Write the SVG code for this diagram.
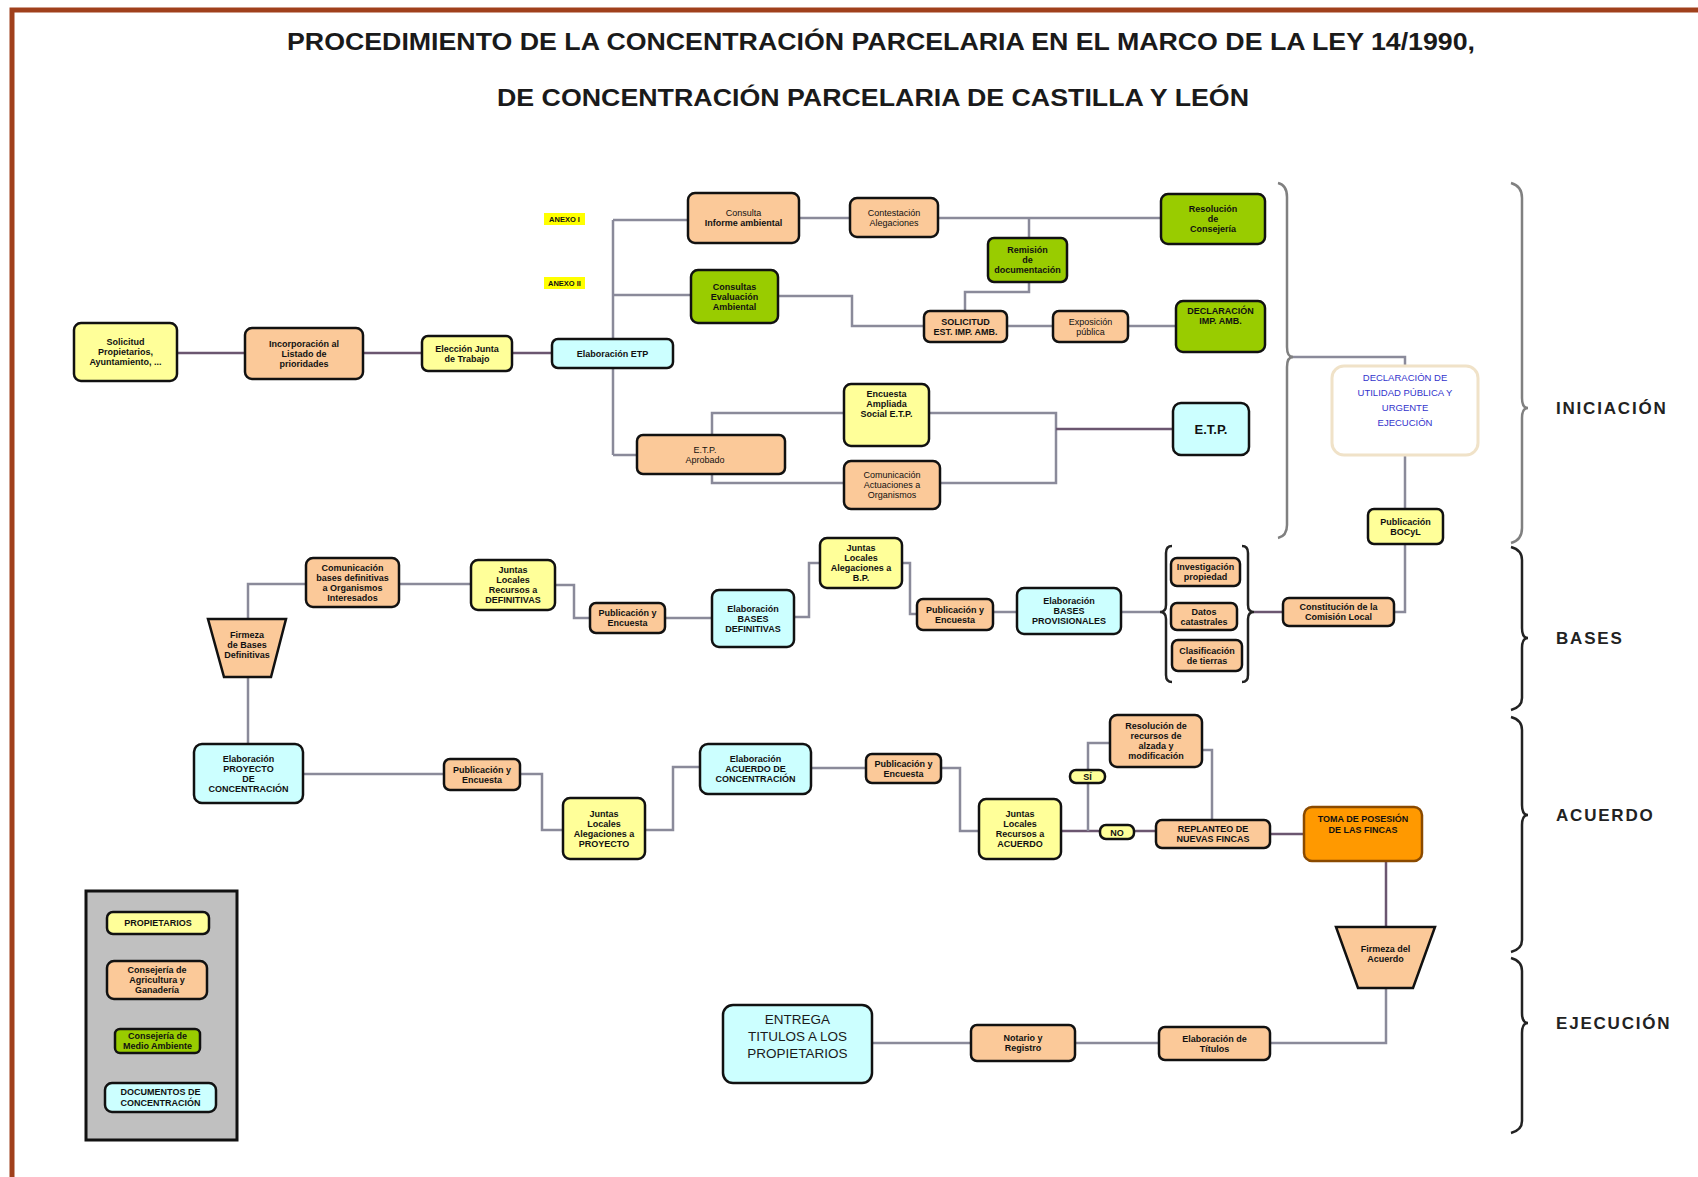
<svg xmlns="http://www.w3.org/2000/svg" width="1698" height="1177" viewBox="0 0 1698 1177">
<style>
  .bg { fill: #ffffff; }
  .frame { fill: none; stroke: #a0401c; stroke-width: 5; }
  .title { font-family: "Liberation Sans", Arial, sans-serif; font-size: 24px; font-weight: bold; fill: #1a1a1a; text-anchor: middle; }
  .phase { font-family: "Liberation Sans", Arial, sans-serif; font-size: 17px; font-weight: bold; fill: #222; letter-spacing: 1.8px; }
  .n rect, .n polygon { stroke: #111; stroke-width: 2.5; }
  .y { fill: #ffff99; }
  .o { fill: #fbc999; }
  .g { fill: #99cc00; }
  .c { fill: #ccffff; }
  .t { font-family: "Liberation Sans", Arial, sans-serif; font-size: 9px; font-weight: bold; fill: #111; text-anchor: middle; }
  .tn { font-weight: normal; }
  .blue { font-family: "Liberation Sans", Arial, sans-serif; font-size: 9.5px; fill: #3333cc; text-anchor: middle; }
  .big { font-family: "Liberation Sans", Arial, sans-serif; font-size: 13.5px; fill: #1a1a1a; text-anchor: middle; }
  .edge { fill: none; stroke: #8a8a9a; stroke-width: 2.5; }
  .edge2 { fill: none; stroke: #6b5670; stroke-width: 2.5; }
  .brace { fill: none; stroke: #222; stroke-width: 2.5; }
  .braceg { fill: none; stroke: #808080; stroke-width: 2.5; }
</style>

<rect class="bg" x="0" y="0" width="1698" height="1177"/>
<path class="frame" d="M12,1177 V10 H1698"/>

<g id="title">
  <text class="title" x="881" y="50" textLength="1188" lengthAdjust="spacingAndGlyphs">PROCEDIMIENTO DE LA CONCENTRACIÓN PARCELARIA EN EL MARCO DE LA LEY 14/1990,</text>
  <text class="title" x="873" y="106" textLength="752" lengthAdjust="spacingAndGlyphs">DE CONCENTRACIÓN PARCELARIA DE CASTILLA Y LEÓN</text>
</g>

<!-- connectors -->
<g id="connectors">
  <path class="edge2" d="M177,353 H245"/>
  <path class="edge2" d="M363,353 H422"/>
  <path class="edge2" d="M512,353 H552"/>
  <path class="edge" d="M613,220 V339 M613,368 V455"/>
  <path class="edge" d="M613,220 H688"/>
  <path class="edge" d="M613,295 H691"/>
  <path class="edge" d="M613,455 H637"/>
  <path class="edge" d="M799,218 H850"/>
  <path class="edge" d="M938,218 H1161"/>
  <path class="edge" d="M1029,218 V238"/>
  <path class="edge" d="M1029,282 V292 H965 V311"/>
  <path class="edge" d="M778,296 H852 V326 H924"/>
  <path class="edge" d="M1007,326 H1053"/>
  <path class="edge" d="M1128,326 H1176"/>
  <path class="edge" d="M712,435 V413 H844"/>
  <path class="edge" d="M712,474 V483 H844"/>
  <path class="edge" d="M929,413 H1056 V483 H940"/>
  <path class="edge2" d="M1056,429 H1173"/>
  <path class="edge" d="M1289,357 H1405 V366"/>
  <path class="edge" d="M1405,455 V509"/>
  <path class="edge" d="M1405,544 V612 H1394"/>
  <path class="edge2" d="M1283,612 H1254"/>
  <path class="edge" d="M1160,612 H1121"/>
  <path class="edge" d="M1017,612 H993"/>
  <path class="edge" d="M917,614 H910 V563 H902"/>
  <path class="edge" d="M820,563 H809 V617 H794"/>
  <path class="edge" d="M712,618 H665"/>
  <path class="edge" d="M590,618 H574 V585 H555"/>
  <path class="edge" d="M471,584 H399"/>
  <path class="edge" d="M306,584 H248 V619"/>
  <path class="edge" d="M248,677 V744"/>
  <path class="edge" d="M303,774 H444"/>
  <path class="edge" d="M520,774 H542 V830 H563"/>
  <path class="edge" d="M645,830 H673 V767 H700"/>
  <path class="edge" d="M811,768 H866"/>
  <path class="edge" d="M941,768 H960 V831 H979"/>
  <path class="edge2" d="M1061,831 H1156"/>
  <path class="edge" d="M1088,831 V743 H1110"/>
  <path class="edge" d="M1202,750 H1212 V820"/>
  <path class="edge2" d="M1270,834 H1304"/>
  <path class="edge2" d="M1386,861 V927"/>
  <path class="edge" d="M1386,988 V1043 H1270"/>
  <path class="edge" d="M1159,1043 H1075"/>
  <path class="edge" d="M971,1043 H872"/>
</g>

<!-- braces -->
<g id="braces">
  <path class="braceg" d="M1278,183 Q1287,185 1287,197 V347 Q1287,357 1293,357 Q1287,357 1287,367 V525 Q1287,536 1278,538"/>
  <path class="brace" d="M1172,546 Q1166,546 1166,553 V605 Q1166,612 1160,612 Q1166,612 1166,619 V675 Q1166,682 1172,682"/>
  <path class="brace" d="M1242,546 Q1248,546 1248,553 V605 Q1248,612 1254,612 Q1248,612 1248,619 V675 Q1248,682 1242,682"/>
  <path class="braceg" d="M1511,183 Q1522,186 1522,198 V398 Q1522,408 1528,408 Q1522,408 1522,418 V528 Q1522,540 1511,543"/>
  <path class="brace" d="M1511,547 Q1522,550 1522,560 V628 Q1522,638 1528,638 Q1522,638 1522,648 V698 Q1522,707 1511,710"/>
  <path class="brace" d="M1511,717 Q1522,720 1522,730 V805 Q1522,815 1528,815 Q1522,815 1522,825 V940 Q1522,949 1511,952"/>
  <path class="brace" d="M1511,958 Q1522,961 1522,971 V1013 Q1522,1023 1528,1023 Q1522,1023 1522,1033 V1121 Q1522,1130 1511,1133"/>
</g>

<g id="phases">
  <text class="phase" x="1556" y="414">INICIACIÓN</text>
  <text class="phase" x="1556" y="644">BASES</text>
  <text class="phase" x="1556" y="821">ACUERDO</text>
  <text class="phase" x="1556" y="1029">EJECUCIÓN</text>
</g>

<!-- INICIACIÓN -->
<g id="solicitud" class="n"><rect class="y" x="74" y="323" width="103" height="58" rx="7"/>
  <text class="t" x="125.5" y="345">Solicitud</text><text class="t" x="125.5" y="355">Propietarios,</text><text class="t" x="125.5" y="365">Ayuntamiento, ...</text></g>
<g id="incorporacion" class="n"><rect class="o" x="245" y="328" width="118" height="51" rx="7"/>
  <text class="t" x="304" y="347">Incorporación al</text><text class="t" x="304" y="357">Listado de</text><text class="t" x="304" y="367">prioridades</text></g>
<g id="eleccion-junta" class="n"><rect class="y" x="422" y="336" width="90" height="35" rx="6"/>
  <text class="t" x="467" y="351.5">Elección Junta</text><text class="t" x="467" y="361.5">de Trabajo</text></g>
<g id="elaboracion-etp" class="n"><rect class="c" x="552" y="339" width="121" height="29" rx="6"/>
  <text class="t" x="612.5" y="357">Elaboración ETP</text></g>
<g id="anexo-1"><rect x="544" y="213" width="41" height="12" fill="#ffff00"/><text class="t" x="564.5" y="222" style="font-size:7.5px">ANEXO I</text></g>
<g id="anexo-2"><rect x="544" y="277" width="41" height="12" fill="#ffff00"/><text class="t" x="564.5" y="286" style="font-size:7.5px">ANEXO II</text></g>
<g id="consulta-informe" class="n"><rect class="o" x="688" y="193" width="111" height="50" rx="7"/>
  <text class="t tn" x="743.5" y="216">Consulta</text><text class="t" x="743.5" y="226">Informe ambiental</text></g>
<g id="contestacion" class="n"><rect class="o" x="850" y="198" width="88" height="39" rx="7"/>
  <text class="t tn" x="894" y="215.5">Contestación</text><text class="t tn" x="894" y="225.5">Alegaciones</text></g>
<g id="consultas-evaluacion" class="n"><rect class="g" x="691" y="270" width="87" height="53" rx="7"/>
  <text class="t" x="734.5" y="289.5">Consultas</text><text class="t" x="734.5" y="299.5">Evaluación</text><text class="t" x="734.5" y="309.5">Ambiental</text></g>
<g id="remision" class="n"><rect class="g" x="988" y="238" width="79" height="44" rx="6"/>
  <text class="t" x="1027.5" y="253">Remisión</text><text class="t" x="1027.5" y="263">de</text><text class="t" x="1027.5" y="273">documentación</text></g>
<g id="resolucion-consejeria" class="n"><rect class="g" x="1161" y="194" width="104" height="50" rx="7"/>
  <text class="t" x="1213" y="212">Resolución</text><text class="t" x="1213" y="222">de</text><text class="t" x="1213" y="232">Consejería</text></g>
<g id="solicitud-eia" class="n"><rect class="o" x="924" y="311" width="83" height="31" rx="6"/>
  <text class="t" x="965.5" y="324.5">SOLICITUD</text><text class="t" x="965.5" y="334.5">EST. IMP. AMB.</text></g>
<g id="exposicion" class="n"><rect class="o" x="1053" y="311" width="75" height="31" rx="6"/>
  <text class="t tn" x="1090.5" y="324.5">Exposición</text><text class="t tn" x="1090.5" y="334.5">pública</text></g>
<g id="declaracion-ia" class="n"><rect class="g" x="1176" y="301" width="89" height="51" rx="7"/>
  <text class="t" x="1220.5" y="314">DECLARACIÓN</text><text class="t" x="1220.5" y="324">IMP. AMB.</text></g>
<g id="encuesta-etp" class="n"><rect class="y" x="844" y="384" width="85" height="62" rx="7"/>
  <text class="t" x="886.5" y="397">Encuesta</text><text class="t" x="886.5" y="407">Ampliada</text><text class="t" x="886.5" y="417">Social E.T.P.</text></g>
<g id="etp-aprobado" class="n"><rect class="o" x="637" y="435" width="148" height="39" rx="6"/>
  <text class="t tn" x="705" y="452.5">E.T.P.</text><text class="t tn" x="705" y="462.5">Aprobado</text></g>
<g id="comunicacion-organismos" class="n"><rect class="o" x="844" y="461" width="96" height="48" rx="7"/>
  <text class="t tn" x="892" y="478">Comunicación</text><text class="t tn" x="892" y="488">Actuaciones a</text><text class="t tn" x="892" y="498">Organismos</text></g>
<g id="etp" class="n"><rect class="c" x="1173" y="403" width="76" height="52" rx="8"/>
  <text class="t" x="1211" y="434" style="font-size:13px">E.T.P.</text></g>
<g id="declaracion-utilidad"><rect x="1332" y="366" width="146" height="89" rx="12" fill="#ffffff" stroke="#f0e2c8" stroke-width="3"/>
  <text class="blue" x="1405" y="381">DECLARACIÓN DE</text><text class="blue" x="1405" y="396">UTILIDAD PÚBLICA Y</text><text class="blue" x="1405" y="411">URGENTE</text><text class="blue" x="1405" y="426">EJECUCIÓN</text></g>
<g id="publicacion-bocyl" class="n"><rect class="y" x="1368" y="509" width="75" height="35" rx="6"/>
  <text class="t" x="1405.5" y="524.5">Publicación</text><text class="t" x="1405.5" y="534.5">BOCyL</text></g>

<!-- BASES -->
<g id="comision-local" class="n"><rect class="o" x="1283" y="598" width="111" height="28" rx="6"/>
  <text class="t" x="1338.5" y="610">Constitución de la</text><text class="t" x="1338.5" y="620">Comisión Local</text></g>
<g id="investigacion" class="n"><rect class="o" x="1171" y="558" width="69" height="28" rx="6"/>
  <text class="t" x="1205.5" y="570">Investigación</text><text class="t" x="1205.5" y="580">propiedad</text></g>
<g id="datos-catastrales" class="n"><rect class="o" x="1171" y="603" width="66" height="27" rx="6"/>
  <text class="t" x="1204" y="614.5">Datos</text><text class="t" x="1204" y="624.5">catastrales</text></g>
<g id="clasificacion" class="n"><rect class="o" x="1172" y="640" width="70" height="31" rx="6"/>
  <text class="t" x="1207" y="653.5">Clasificación</text><text class="t" x="1207" y="663.5">de tierras</text></g>
<g id="bases-provisionales" class="n"><rect class="c" x="1017" y="588" width="104" height="46" rx="7"/>
  <text class="t" x="1069" y="604">Elaboración</text><text class="t" x="1069" y="614">BASES</text><text class="t" x="1069" y="624">PROVISIONALES</text></g>
<g id="publicacion-bp" class="n"><rect class="o" x="917" y="599" width="76" height="31" rx="6"/>
  <text class="t" x="955" y="612.5">Publicación y</text><text class="t" x="955" y="622.5">Encuesta</text></g>
<g id="juntas-bp" class="n"><rect class="y" x="820" y="538" width="82" height="50" rx="7"/>
  <text class="t" x="861" y="551">Juntas</text><text class="t" x="861" y="561">Locales</text><text class="t" x="861" y="571">Alegaciones a</text><text class="t" x="861" y="581">B.P.</text></g>
<g id="bases-definitivas" class="n"><rect class="c" x="712" y="590" width="82" height="57" rx="7"/>
  <text class="t" x="753" y="611.5">Elaboración</text><text class="t" x="753" y="621.5">BASES</text><text class="t" x="753" y="631.5">DEFINITIVAS</text></g>
<g id="publicacion-bd" class="n"><rect class="o" x="590" y="603" width="75" height="30" rx="6"/>
  <text class="t" x="627.5" y="616">Publicación y</text><text class="t" x="627.5" y="626">Encuesta</text></g>
<g id="juntas-bd" class="n"><rect class="y" x="471" y="560" width="84" height="50" rx="7"/>
  <text class="t" x="513" y="573">Juntas</text><text class="t" x="513" y="583">Locales</text><text class="t" x="513" y="593">Recursos a</text><text class="t" x="513" y="603">DEFINITIVAS</text></g>
<g id="comunicacion-bases" class="n"><rect class="o" x="306" y="558" width="93" height="49" rx="7"/>
  <text class="t" x="352.5" y="570.5">Comunicación</text><text class="t" x="352.5" y="580.5">bases definitivas</text><text class="t" x="352.5" y="590.5">a Organismos</text><text class="t" x="352.5" y="600.5">Interesados</text></g>
<g id="firmeza-bases" class="n"><polygon class="o" points="208,619 286,619 271,677 224,677"/>
  <text class="t" x="247" y="638">Firmeza</text><text class="t" x="247" y="648">de Bases</text><text class="t" x="247" y="658">Definitivas</text></g>

<!-- ACUERDO -->
<g id="proyecto" class="n"><rect class="c" x="194" y="744" width="109" height="59" rx="8"/>
  <text class="t" x="248.5" y="761.5">Elaboración</text><text class="t" x="248.5" y="771.5">PROYECTO</text><text class="t" x="248.5" y="781.5">DE</text><text class="t" x="248.5" y="791.5">CONCENTRACIÓN</text></g>
<g id="publicacion-proyecto" class="n"><rect class="o" x="444" y="759" width="76" height="31" rx="6"/>
  <text class="t" x="482" y="772.5">Publicación y</text><text class="t" x="482" y="782.5">Encuesta</text></g>
<g id="juntas-proyecto" class="n"><rect class="y" x="563" y="798" width="82" height="61" rx="7"/>
  <text class="t" x="604" y="816.5">Juntas</text><text class="t" x="604" y="826.5">Locales</text><text class="t" x="604" y="836.5">Alegaciones a</text><text class="t" x="604" y="846.5">PROYECTO</text></g>
<g id="acuerdo" class="n"><rect class="c" x="700" y="744" width="111" height="50" rx="8"/>
  <text class="t" x="755.5" y="762">Elaboración</text><text class="t" x="755.5" y="772">ACUERDO DE</text><text class="t" x="755.5" y="782">CONCENTRACIÓN</text></g>
<g id="publicacion-acuerdo" class="n"><rect class="o" x="866" y="754" width="75" height="29" rx="6"/>
  <text class="t" x="903.5" y="766.5">Publicación y</text><text class="t" x="903.5" y="776.5">Encuesta</text></g>
<g id="juntas-acuerdo" class="n"><rect class="y" x="979" y="799" width="82" height="60" rx="7"/>
  <text class="t" x="1020" y="817">Juntas</text><text class="t" x="1020" y="827">Locales</text><text class="t" x="1020" y="837">Recursos a</text><text class="t" x="1020" y="847">ACUERDO</text></g>
<g id="si" class="n"><rect class="y" x="1070" y="770" width="35" height="13" rx="6"/>
  <text class="t" x="1087.5" y="780">SÍ</text></g>
<g id="no" class="n"><rect class="y" x="1100" y="825" width="34" height="14" rx="6"/>
  <text class="t" x="1117" y="835.5">NO</text></g>
<g id="resolucion-recursos" class="n"><rect class="o" x="1110" y="715" width="92" height="52" rx="7"/>
  <text class="t" x="1156" y="729">Resolución de</text><text class="t" x="1156" y="739">recursos de</text><text class="t" x="1156" y="749">alzada y</text><text class="t" x="1156" y="759">modificación</text></g>
<g id="replanteo" class="n"><rect class="o" x="1156" y="820" width="114" height="28" rx="6"/>
  <text class="t" x="1213" y="832">REPLANTEO DE</text><text class="t" x="1213" y="842">NUEVAS FINCAS</text></g>
<g id="toma-posesion"><rect x="1304" y="807" width="118" height="54" rx="8" fill="#ff9900" stroke="#8a4a00" stroke-width="2.5"/>
  <text class="t" x="1363" y="822">TOMA DE POSESIÓN</text><text class="t" x="1363" y="833">DE LAS FINCAS</text></g>
<g id="firmeza-acuerdo" class="n"><polygon class="o" points="1336,927 1435,927 1413,988 1358,988"/>
  <text class="t" x="1385.5" y="952">Firmeza del</text><text class="t" x="1385.5" y="962">Acuerdo</text></g>

<!-- EJECUCIÓN -->
<g id="elaboracion-titulos" class="n"><rect class="o" x="1159" y="1027" width="111" height="33" rx="6"/>
  <text class="t" x="1214.5" y="1041.5">Elaboración de</text><text class="t" x="1214.5" y="1051.5">Títulos</text></g>
<g id="notario-registro" class="n"><rect class="o" x="971" y="1025" width="104" height="36" rx="6"/>
  <text class="t" x="1023" y="1041">Notario y</text><text class="t" x="1023" y="1051">Registro</text></g>
<g id="entrega-titulos" class="n"><rect class="c" x="723" y="1005" width="149" height="78" rx="10"/>
  <text class="big" x="797.5" y="1024">ENTREGA</text><text class="big" x="797.5" y="1041">TITULOS A LOS</text><text class="big" x="797.5" y="1058">PROPIETARIOS</text></g>

<!-- legend -->
<g id="legend">
  <rect x="86" y="891" width="151" height="249" fill="#c0c0c0" stroke="#111" stroke-width="3"/>
  <g class="n"><rect class="y" x="107" y="912" width="102" height="22" rx="6"/>
    <text class="t" x="158" y="926">PROPIETARIOS</text></g>
  <g class="n"><rect class="o" x="107" y="961" width="100" height="38" rx="7"/>
    <text class="t" x="157" y="973">Consejería de</text><text class="t" x="157" y="983">Agricultura y</text><text class="t" x="157" y="993">Ganadería</text></g>
  <g class="n"><rect class="g" x="115" y="1029" width="85" height="24" rx="5"/>
    <text class="t" x="157.5" y="1039">Consejería de</text><text class="t" x="157.5" y="1049">Medio Ambiente</text></g>
  <g class="n"><rect class="c" x="105" y="1083" width="111" height="29" rx="7"/>
    <text class="t" x="160.5" y="1095">DOCUMENTOS DE</text><text class="t" x="160.5" y="1106">CONCENTRACIÓN</text></g>
</g>
</svg>
